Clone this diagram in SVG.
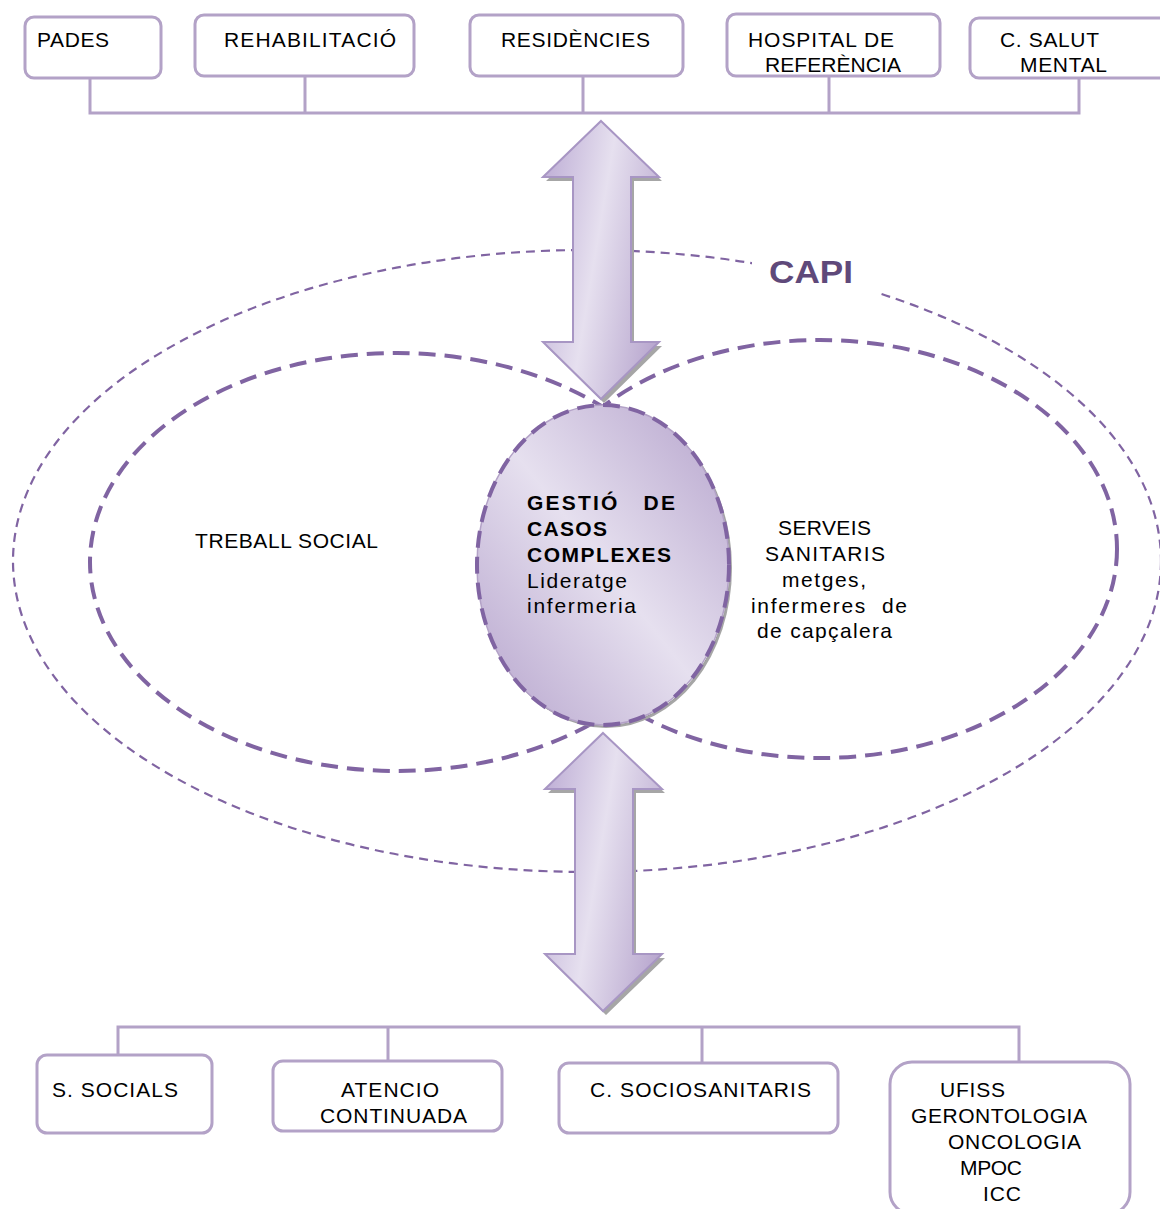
<svg xmlns="http://www.w3.org/2000/svg" width="1160" height="1209" viewBox="0 0 1160 1209">
  <defs>
    <linearGradient id="lilac" x1="1" y1="0" x2="0" y2="1">
      <stop offset="0" stop-color="#b5a3cc"/>
      <stop offset="0.5" stop-color="#e6e0ef"/>
      <stop offset="1" stop-color="#b5a3cc"/>
    </linearGradient>
    <linearGradient id="arrowFill" x1="0" y1="0.3" x2="1" y2="0.7">
      <stop offset="0" stop-color="#c2b3d8"/>
      <stop offset="0.45" stop-color="#e6e0ef"/>
      <stop offset="1" stop-color="#b9a8cf"/>
    </linearGradient>
  </defs>
  <style>
    .box { fill: #ffffff; stroke: #b3a2c7; stroke-width: 3; }
    .link { fill: none; stroke: #b3a2c7; stroke-width: 3; }
    .lbl { font-family: "Liberation Sans", Arial, sans-serif; font-size: 21px; fill: #000000; }
    .bold { font-weight: bold; }
    .capi { font-family: "Liberation Sans", Arial, sans-serif; font-size: 32px; font-weight: bold; fill: #5f497a; }
    .outer { fill: none; stroke: #8064a2; stroke-width: 2.2; stroke-dasharray: 9 6; }
    .inner { fill: none; stroke: #8064a2; stroke-width: 4; stroke-dasharray: 17 9; }
    .arrow { fill: url(#arrowFill); stroke: #a896c4; stroke-width: 2; stroke-linejoin: miter; }
    .shadow { fill: #a6a6a6; }
  </style>

  <!-- service circles -->
  <g id="capi-circle">
    <ellipse class="outer" cx="587" cy="561" rx="574" ry="311"/>
    <rect x="752" y="248" width="126" height="52" fill="#ffffff"/>
    <text class="capi" x="769" y="283" textLength="84" lengthAdjust="spacingAndGlyphs">CAPI</text>
  </g>
  <g id="treball-social">
    <ellipse class="inner" cx="397" cy="562" rx="307" ry="209"/>
    <text class="lbl" x="195" y="548" textLength="183">TREBALL SOCIAL</text>
  </g>
  <g id="serveis-sanitaris">
    <ellipse class="inner" cx="820" cy="549" rx="297" ry="209"/>
    <text class="lbl" x="778" y="535" textLength="93">SERVEIS</text>
    <text class="lbl" x="765" y="561" textLength="120">SANITARIS</text>
    <text class="lbl" x="782" y="587" textLength="84">metges,</text>
    <text class="lbl" x="751" y="613" textLength="156" xml:space="preserve">infermeres  de</text>
    <text class="lbl" x="757" y="638" textLength="135">de capçalera</text>
  </g>

  <!-- top services bus and arrows -->
  <g id="connectors">
    <path class="link" d="M90 78 V113 H1079 V78 M305 76 V113 M583 76 V113 M829 76 V113"/>
    <path class="link" d="M118 1055 V1027 H1019 V1062 M388 1027 V1061 M702 1027 V1063"/>
    <g id="arrow-top">
      <polygon class="shadow" points="604,125 662,181 634,181 634,346 662,346 604,403 546,346 576,346 576,181 546,181"/>
      <polygon class="arrow" points="601,121 659,177 631,177 631,342 659,342 601,399 543,342 573,342 573,177 543,177"/>
    </g>
    <g id="arrow-bottom">
      <polygon class="shadow" points="606,737 665,793 636,793 636,958 665,958 606,1015 548,958 578,958 578,793 548,793"/>
      <polygon class="arrow" points="603,733 662,789 633,789 633,954 662,954 603,1011 545,954 575,954 575,789 545,789"/>
    </g>
  </g>

  <!-- case management core -->
  <g id="gestio-casos">
    <ellipse cx="606" cy="568" rx="126" ry="160" fill="#a6a6a6"/>
    <ellipse cx="604" cy="566" rx="126" ry="160" fill="#ffffff" stroke="#9a9a9a" stroke-width="1"/>
    <ellipse cx="603" cy="565" rx="126" ry="160" fill="url(#lilac)" stroke="#b3a2c7" stroke-width="1.5"/>
    <ellipse class="inner" cx="603" cy="565" rx="126" ry="160"/>
    <text class="lbl bold" x="527" y="510" textLength="148" xml:space="preserve">GESTIÓ   DE</text>
    <text class="lbl bold" x="527" y="536" textLength="80">CASOS</text>
    <text class="lbl bold" x="527" y="562" textLength="144">COMPLEXES</text>
    <text class="lbl" x="527" y="588" textLength="100">Lideratge</text>
    <text class="lbl" x="527" y="613" textLength="109">infermeria</text>
  </g>

  <!-- top row -->
  <g id="pades">
    <rect class="box" x="25" y="17" width="136" height="61" rx="9"/>
    <text class="lbl" x="37" y="47" textLength="72">PADES</text>
  </g>
  <g id="rehabilitacio">
    <rect class="box" x="195" y="15" width="219" height="61" rx="9"/>
    <text class="lbl" x="224" y="47" textLength="172">REHABILITACIÓ</text>
  </g>
  <g id="residencies">
    <rect class="box" x="470" y="15" width="213" height="61" rx="9"/>
    <text class="lbl" x="501" y="47" textLength="149">RESIDÈNCIES</text>
  </g>
  <g id="hospital">
    <rect class="box" x="727" y="14" width="213" height="62" rx="9"/>
    <text class="lbl" x="748" y="47" textLength="146">HOSPITAL DE</text>
    <text class="lbl" x="765" y="72" textLength="136">REFERÈNCIA</text>
  </g>
  <g id="salut-mental">
    <rect class="box" x="970" y="18" width="200" height="60" rx="9"/>
    <text class="lbl" x="1000" y="47" textLength="99">C. SALUT</text>
    <text class="lbl" x="1020" y="72" textLength="87">MENTAL</text>
  </g>

  <!-- bottom row -->
  <g id="s-socials">
    <rect class="box" x="37" y="1055" width="175" height="78" rx="10"/>
    <text class="lbl" x="52" y="1097" textLength="126">S. SOCIALS</text>
  </g>
  <g id="atencio-continuada">
    <rect class="box" x="273" y="1061" width="229" height="70" rx="10"/>
    <text class="lbl" x="341" y="1097" textLength="98">ATENCIO</text>
    <text class="lbl" x="320" y="1123" textLength="147">CONTINUADA</text>
  </g>
  <g id="sociosanitaris">
    <rect class="box" x="559" y="1063" width="279" height="70" rx="10"/>
    <text class="lbl" x="590" y="1097" textLength="221">C. SOCIOSANITARIS</text>
  </g>
  <g id="ufiss">
    <rect class="box" x="890" y="1062" width="240" height="152" rx="22"/>
    <text class="lbl" x="940" y="1097" textLength="65">UFISS</text>
    <text class="lbl" x="911" y="1123" textLength="176">GERONTOLOGIA</text>
    <text class="lbl" x="948" y="1149" textLength="133">ONCOLOGIA</text>
    <text class="lbl" x="960" y="1175" textLength="62">MPOC</text>
    <text class="lbl" x="983" y="1201" textLength="38">ICC</text>
  </g>
</svg>
